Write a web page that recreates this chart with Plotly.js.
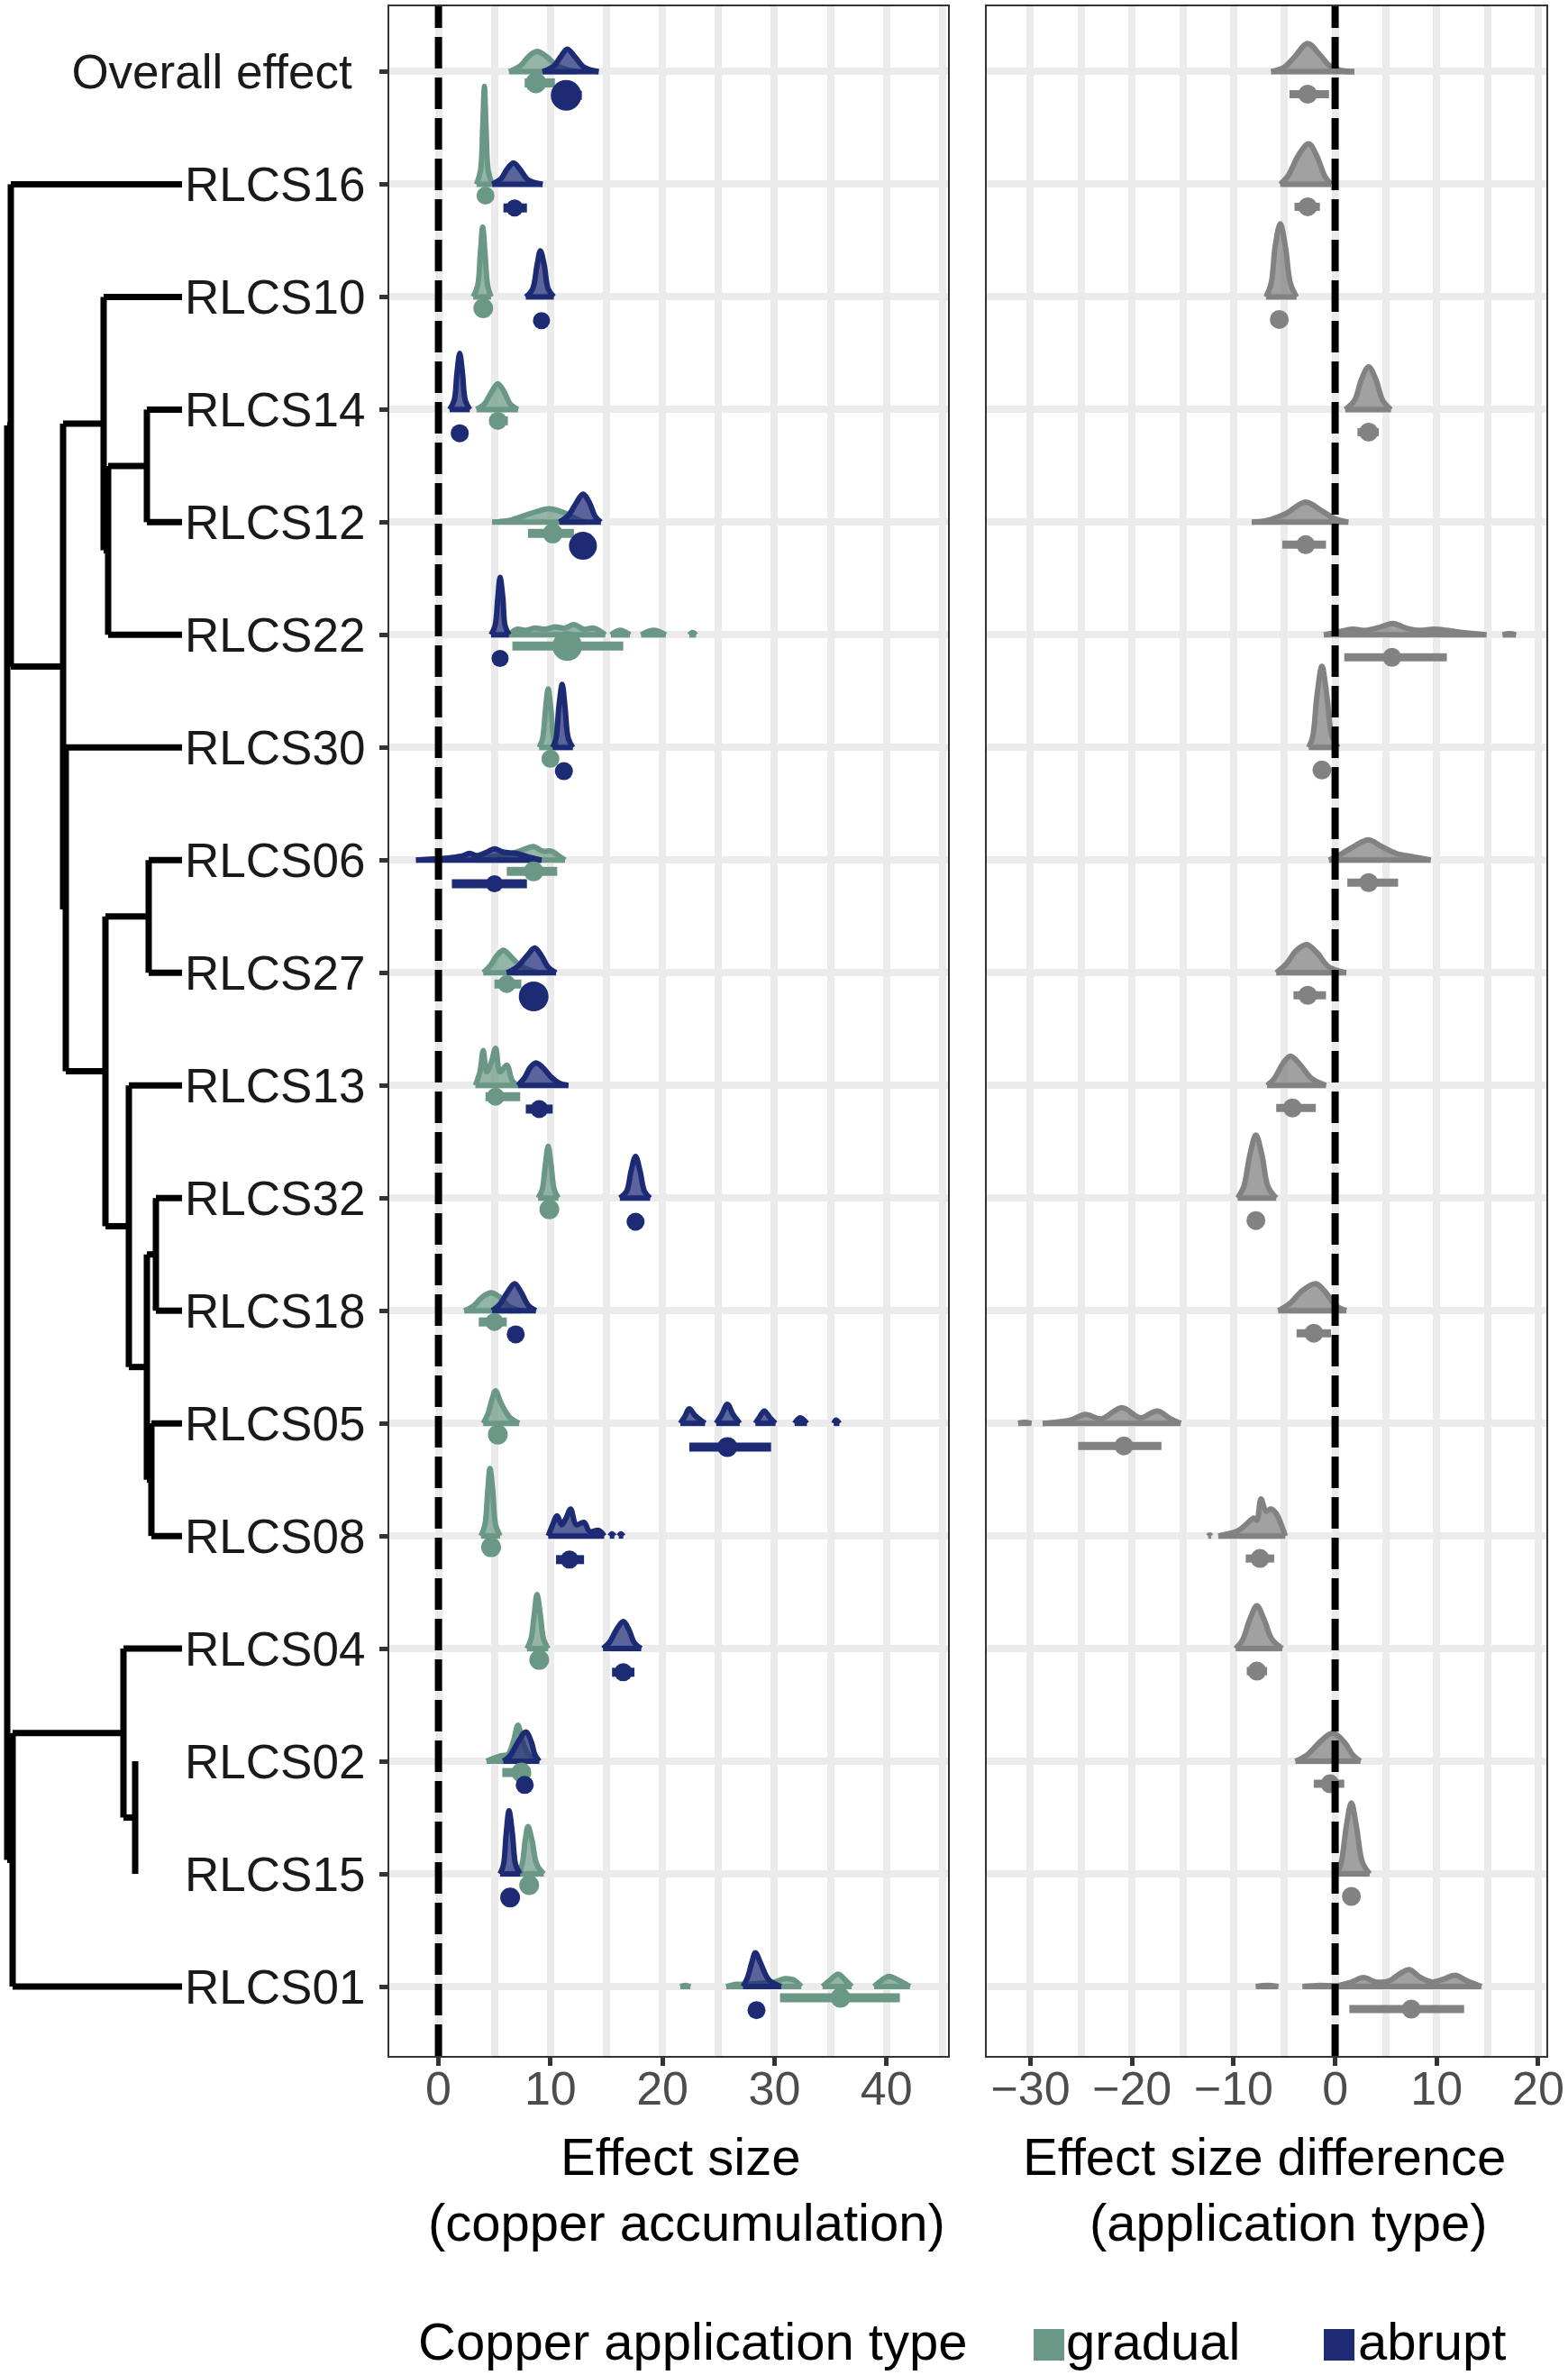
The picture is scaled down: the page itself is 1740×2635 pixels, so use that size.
<!DOCTYPE html>
<html><head><meta charset="utf-8">
<script src="https://cdn.plot.ly/plotly-3.0.1.min.js"></script>
<style>html,body{margin:0;padding:0;background:#fff}#chart{width:1740px;height:2635px}</style>
</head><body><div id="chart"></div>
<script>
// ---------------- DATA ----------------
const rowNames = ["Overall effect","RLCS16","RLCS10","RLCS14","RLCS12","RLCS22","RLCS30","RLCS06","RLCS27","RLCS13","RLCS32","RLCS18","RLCS05","RLCS08","RLCS04","RLCS02","RLCS15","RLCS01"];
const groupNames = ["gradual","abrupt"];

const gradualMedian = [8.7, 4.2, 4.0, 5.3, 10.2, 11.5, 10.0, 8.5, 6.1, 5.1, 9.9, 5.0, 5.3, 4.7, 9.0, 7.4, 8.1, 35.9];
const gradualLower  = [7.7, 3.9, 3.7, 4.6, 8.0, 6.6, 9.7, 6.1, 5.0, 4.2, 9.6, 3.6, 5.0, 4.4, 8.7, 5.7, 7.8, 30.5];
const gradualUpper  = [10.4, 4.5, 4.3, 6.2, 12.1, 16.5, 10.2, 10.6, 7.4, 7.3, 10.2, 6.1, 5.6, 5.0, 9.3, 8.2, 8.4, 41.2];
const gradualWeight = [1.15, 1.0, 1.1, 1.0, 1.1, 1.65, 1.0, 1.1, 1.0, 1.0, 1.1, 1.0, 1.1, 1.1, 1.1, 1.1, 1.1, 1.1];

const abruptMedian = [11.4, 6.8, 9.2, 1.9, 12.9, 5.5, 11.2, 5.0, 8.5, 9.0, 17.6, 6.9, 25.8, 11.7, 16.5, 7.7, 6.4, 28.4];
const abruptLower  = [10.3, 5.8, 8.8, 1.6, 12.3, 5.2, 10.9, 1.2, 8.0, 7.8, 17.3, 6.5, 22.4, 10.5, 15.5, 7.4, 6.1, 28.1];
const abruptUpper  = [12.8, 7.9, 9.6, 2.2, 13.4, 5.8, 11.5, 7.9, 9.0, 10.2, 17.9, 7.3, 29.7, 13.0, 17.5, 8.0, 6.7, 28.7];
const abruptWeight = [1.7, 0.95, 0.95, 1.0, 1.55, 0.95, 1.0, 0.95, 1.65, 1.0, 1.0, 1.0, 1.1, 1.0, 1.0, 1.0, 1.1, 1.0];

const diffMedian = [-2.7, -2.7, -5.5, 3.3, -2.9, 5.6, -1.3, 3.3, -2.7, -4.2, -7.8, -2.1, -20.8, -7.4, -7.7, -0.5, 1.6, 7.5];
const diffLower  = [-4.5, -4.0, -6.0, 2.2, -5.2, 0.9, -1.7, 1.2, -4.1, -5.8, -8.3, -3.8, -25.3, -8.8, -8.7, -2.1, 1.2, 1.4];
const diffUpper  = [-0.6, -1.5, -5.0, 4.3, -0.9, 11.0, -0.9, 6.2, -0.9, -1.9, -7.3, -0.4, -17.1, -6.0, -6.7, 0.9, 2.0, 12.7];

// posterior densities: [value, height in row units]; null separates pieces
const gradualDensity = [
 [[6.3,0],[7.3,0.05],[8.0,0.13],[8.8,0.18],[9.7,0.13],[10.6,0.05],[12.3,0]],
 [[3.4,0],[3.75,0.12],[3.95,0.5],[4.1,0.87],[4.25,0.5],[4.45,0.12],[4.8,0]],
 [[3.1,0],[3.5,0.1],[3.75,0.4],[3.95,0.62],[4.15,0.4],[4.4,0.1],[4.7,0]],
 [[3.4,0],[4.1,0.05],[4.7,0.15],[5.3,0.23],[5.9,0.15],[6.4,0.05],[7.1,0]],
 [[4.8,0],[6.5,0.02],[8.0,0.07],[9.9,0.12],[11.3,0.08],[12.3,0.03],[13.1,0]],
 [[6.3,0],[7.0,0.05],[7.8,0.04],[8.6,0.06],[9.5,0.05],[10.4,0.07],[11.3,0.06],[12.1,0.09],[13.0,0.05],[13.9,0.06],[14.9,0],null,[15.4,0],[16.2,0.04],[17.1,0],null,[18.1,0],[19.2,0.04],[20.3,0],null,[22.4,0],[22.7,0.02],[23.0,0]],
 [[9.0,0],[9.3,0.08],[9.55,0.33],[9.8,0.52],[10.05,0.33],[10.3,0.08],[10.6,0]],
 [[3.4,0],[4.8,0.03],[6.2,0.05],[7.5,0.09],[8.5,0.12],[9.3,0.08],[10.1,0.08],[10.7,0.04],[11.3,0]],
 [[4.0,0],[4.6,0.06],[5.2,0.15],[5.8,0.2],[6.4,0.15],[7.2,0.07],[8.0,0.03],[9.0,0]],
 [[3.3,0],[3.7,0.12],[4.0,0.31],[4.3,0.12],[4.7,0.2],[5.1,0.33],[5.5,0.12],[6.1,0.18],[6.6,0.04],[7.1,0]],
 [[8.9,0],[9.25,0.07],[9.55,0.3],[9.8,0.46],[10.05,0.3],[10.35,0.07],[10.7,0]],
 [[2.3,0],[3.1,0.04],[3.9,0.12],[4.7,0.16],[5.5,0.12],[6.3,0.04],[7.4,0]],
 [[4.0,0],[4.4,0.08],[4.8,0.22],[5.1,0.29],[5.5,0.2],[5.9,0.12],[6.4,0.05],[7.2,0]],
 [[3.8,0],[4.15,0.1],[4.4,0.4],[4.6,0.6],[4.85,0.4],[5.1,0.1],[5.5,0]],
 [[7.9,0],[8.25,0.08],[8.55,0.3],[8.8,0.48],[9.1,0.3],[9.4,0.08],[9.8,0]],
 [[4.3,0],[5.0,0.03],[5.6,0.05],[6.2,0.06],[6.7,0.18],[7.1,0.32],[7.5,0.18],[8.1,0.05],[9.0,0]],
 [[7.2,0],[7.5,0.1],[7.75,0.3],[8.0,0.42],[8.35,0.3],[8.8,0.08],[9.4,0]],
 [[21.6,0],[22.0,0.01],[22.5,0],null,[25.7,0],[26.6,0.02],[27.6,0.02],[28.8,0.03],[30.0,0.04],[30.9,0.07],[31.7,0.06],[32.4,0],null,[34.3,0],[35.0,0.06],[35.7,0.11],[36.4,0.05],[36.9,0],null,[38.9,0],[39.5,0.05],[40.2,0.09],[41.0,0.06],[42.1,0]]
];
const abruptDensity = [
 [[9.3,0],[10.3,0.05],[10.9,0.13],[11.5,0.2],[12.2,0.13],[13.0,0.04],[14.3,0]],
 [[4.8,0],[5.6,0.05],[6.1,0.13],[6.7,0.19],[7.3,0.13],[8.0,0.04],[9.3,0]],
 [[7.8,0],[8.4,0.07],[8.8,0.28],[9.1,0.41],[9.45,0.28],[9.8,0.07],[10.3,0]],
 [[1.0,0],[1.4,0.08],[1.65,0.32],[1.9,0.5],[2.15,0.32],[2.4,0.08],[2.8,0]],
 [[10.8,0],[11.6,0.06],[12.3,0.17],[12.9,0.25],[13.5,0.17],[14.0,0.05],[14.5,0]],
 [[4.7,0],[5.05,0.08],[5.3,0.33],[5.5,0.51],[5.75,0.33],[5.95,0.08],[6.3,0]],
 [[10.2,0],[10.5,0.08],[10.75,0.36],[11.05,0.56],[11.3,0.36],[11.6,0.08],[12.0,0]],
 [[-2.0,0],[-0.5,0.01],[1.0,0.02],[2.2,0.04],[2.8,0.06],[3.4,0.04],[4.3,0.07],[5.0,0.1],[5.8,0.07],[6.9,0.06],[8.0,0.03],[9.2,0]],
 [[6.1,0],[7.0,0.05],[7.9,0.15],[8.6,0.22],[9.2,0.15],[9.8,0.05],[10.5,0]],
 [[7.1,0],[7.7,0.07],[8.2,0.16],[8.7,0.2],[9.3,0.16],[10.0,0.08],[10.8,0.02],[11.6,0]],
 [[16.2,0],[16.8,0.06],[17.2,0.24],[17.6,0.37],[18.0,0.24],[18.4,0.06],[18.9,0]],
 [[4.8,0],[5.5,0.06],[6.2,0.17],[6.8,0.24],[7.4,0.16],[8.0,0.05],[8.7,0]],
 [[21.6,0],[22.0,0.06],[22.4,0.13],[22.9,0.07],[23.8,0],null,[24.8,0],[25.3,0.08],[25.8,0.17],[26.3,0.08],[26.9,0],null,[28.3,0],[28.7,0.06],[29.1,0.11],[29.6,0.05],[30.1,0],null,[31.8,0],[32.3,0.05],[32.9,0],null,[35.3,0],[35.5,0.03],[35.8,0]],
 [[9.8,0],[10.2,0.1],[10.6,0.18],[11.0,0.1],[11.4,0.16],[11.8,0.24],[12.3,0.1],[13.0,0.12],[13.5,0.04],[14.3,0.05],[14.8,0],null,[15.3,0],[15.5,0.02],[15.7,0],null,[16.1,0],[16.3,0.02],[16.5,0]],
 [[14.7,0],[15.3,0.06],[15.9,0.17],[16.5,0.24],[17.0,0.17],[17.5,0.05],[18.1,0]],
 [[5.8,0],[6.4,0.05],[7.1,0.17],[7.8,0.26],[8.3,0.17],[8.6,0.06],[9.0,0]],
 [[5.5,0],[5.8,0.08],[6.05,0.36],[6.3,0.56],[6.6,0.36],[6.9,0.08],[7.3,0]],
 [[27.2,0],[27.6,0.08],[28.0,0.22],[28.3,0.3],[28.8,0.2],[29.5,0.06],[30.6,0]]
];
const diffDensity = [
 [[-6.3,0],[-5.0,0.04],[-4.0,0.13],[-2.7,0.25],[-1.5,0.15],[-0.5,0.05],[0.6,0.01],[1.9,0]],
 [[-5.4,0],[-4.6,0.08],[-3.6,0.26],[-2.6,0.36],[-1.8,0.25],[-1.0,0.07],[-0.4,0]],
 [[-6.8,0],[-6.3,0.12],[-5.9,0.45],[-5.4,0.65],[-4.9,0.45],[-4.4,0.12],[-3.8,0]],
 [[1.0,0],[1.9,0.08],[2.6,0.27],[3.3,0.38],[4.0,0.27],[4.7,0.08],[5.5,0]],
 [[-8.2,0],[-6.5,0.02],[-4.8,0.08],[-2.9,0.18],[-1.3,0.1],[0.0,0.03],[1.3,0]],
 [[-1.1,0],[0.5,0.03],[1.7,0.05],[3.0,0.04],[4.5,0.07],[5.7,0.1],[7.0,0.06],[8.3,0.04],[9.7,0.05],[11.0,0.04],[12.5,0.02],[14.9,0],null,[16.5,0],[17.2,0.01],[17.8,0]],
 [[-2.6,0],[-2.2,0.1],[-1.8,0.45],[-1.3,0.72],[-0.8,0.45],[-0.3,0.1],[0.3,0]],
 [[-0.6,0],[0.7,0.06],[2.0,0.13],[3.3,0.18],[4.6,0.12],[6.0,0.06],[7.6,0.03],[9.4,0]],
 [[-5.8,0],[-4.8,0.08],[-3.8,0.2],[-2.8,0.25],[-1.8,0.18],[-0.6,0.05],[1.1,0]],
 [[-6.7,0],[-6.0,0.06],[-5.1,0.2],[-4.4,0.26],[-3.5,0.19],[-2.3,0.06],[-0.9,0]],
 [[-9.6,0],[-9.0,0.1],[-8.4,0.38],[-7.8,0.56],[-7.2,0.38],[-6.6,0.1],[-5.8,0]],
 [[-5.6,0],[-4.5,0.06],[-3.2,0.18],[-1.9,0.24],[-0.9,0.16],[0.0,0.05],[1.1,0]],
 [[-31.2,0],[-30.6,0.01],[-29.9,0],null,[-28.8,0],[-27.5,0.01],[-26.0,0.03],[-24.6,0.08],[-23.0,0.04],[-21.0,0.14],[-19.2,0.05],[-17.5,0.11],[-16.2,0.04],[-15.2,0]],
 [[-12.5,0],[-12.35,0.01],[-12.2,0],null,[-11.5,0],[-10.5,0.02],[-9.5,0.05],[-8.8,0.1],[-8.0,0.16],[-7.7,0.14],[-7.3,0.33],[-6.8,0.22],[-6.3,0.24],[-5.8,0.2],[-5.3,0.1],[-4.9,0]],
 [[-9.8,0],[-9.1,0.08],[-8.4,0.26],[-7.7,0.38],[-7.0,0.26],[-6.2,0.08],[-5.2,0]],
 [[-3.9,0],[-2.7,0.06],[-1.4,0.18],[-0.2,0.25],[0.9,0.17],[1.8,0.05],[2.5,0]],
 [[0.2,0],[0.6,0.1],[1.1,0.42],[1.6,0.63],[2.1,0.42],[2.7,0.1],[3.4,0]],
 [[-7.8,0],[-6.7,0.01],[-5.6,0],null,[-3.2,0],[-1.5,0.01],[0.4,0.01],[1.6,0.04],[2.8,0.08],[4.0,0.04],[5.3,0.05],[6.3,0.11],[7.3,0.15],[8.4,0.08],[9.6,0.04],[10.8,0.07],[11.8,0.1],[13.0,0.05],[14.4,0]]
];

// x-axis ticks
const effectTicks = [0, 10, 20, 30, 40];
const effectMinorGrid = [5, 15, 25, 35, 45];
const diffTicks = [-30, -20, -10, 0, 10, 20];
const diffTickText = ["\u221230", "\u221220", "\u221210", "0", "10", "20"];
const diffMinorGrid = [-25, -15, -5, 5, 15];

// phylogeny (ggtree-style, depth)
const treeNode   = ["root","S","E","A","B","C","F","D","G","H","I","J","K","P","M","N",
  "RLCS16","RLCS10","RLCS14","RLCS12","RLCS22","RLCS30","RLCS06","RLCS27","RLCS13","RLCS32","RLCS18","RLCS05","RLCS08","RLCS04","RLCS02","RLCS15","RLCS01"];
const treeParent = [null,"root","S","E","A","B","E","F","D","D","H","I","I","root","P","M",
  "S","A","C","C","B","F","G","G","H","J","J","K","K","M","N","N","P"];
const treeDepth  = [8,12,70,115,120,163,73,117,165,143,163,173,168,14,137,150,
  202,202,202,202,202,202,202,202,202,202,202,202,202,202,150,150,202];

// ---------------- STYLE ----------------
const W = 1740, H = 2635;
const px = v => v / W, py = v => 1 - v / H;
const FONT = "Liberation Sans, Arial, Helvetica, sans-serif";
const colG = "#6b9886", colA = "#1d2a74", colD = "#828282";
const fillG = "rgba(107,152,134,0.72)", fillA = "rgba(29,42,116,0.72)", fillD = "rgba(130,130,130,0.75)";
const nRow = rowNames.length;
const rowPos = rowNames.map((_, i) => nRow - i);
const yRange = [0.384, 18.58];
const GRID = "#ebebeb";

const traces = [];

function slab(pts, pos, xa, ya, lc, fc) {
  const x = [], y = [];
  pts.forEach(p => { if (p === null) { x.push(null); y.push(null); } else { x.push(p[0]); y.push(pos + p[1]); } });
  return {type:"scatter", mode:"lines", x, y, xaxis:xa, yaxis:ya, fill:"toself", fillcolor:fc,
    line:{color:lc, width:6, shape:"spline", smoothing:1}, hoverinfo:"skip", showlegend:false};
}
function baselines(dens, xa, ya, lc) {
  const x = [], y = [];
  dens.forEach((pts, i) => {
    let seg = [];
    const flush = () => { if (seg.length) { x.push(seg[0][0], seg[seg.length-1][0], null); y.push(rowPos[i], rowPos[i], null); } seg = []; };
    pts.forEach(p => { if (p === null) flush(); else seg.push(p); });
    flush();
  });
  return {type:"scatter", mode:"lines", x, y, xaxis:xa, yaxis:ya, line:{color:lc, width:6}, hoverinfo:"skip", showlegend:false};
}
function intervals(lo, hi, off, xa, ya, lc, w) {
  const x = [], y = [];
  lo.forEach((v, i) => { x.push(v, hi[i], null); y.push(rowPos[i] - off, rowPos[i] - off, null); });
  return {type:"scatter", mode:"lines", x, y, xaxis:xa, yaxis:ya, line:{color:lc, width:w}, hoverinfo:"skip", showlegend:false};
}
function points(med, off, sizes, xa, ya, c, name) {
  return {type:"scatter", mode:"markers", name, x:med, y:rowPos.map(p => p - off), xaxis:xa, yaxis:ya,
    marker:{color:c, size:sizes, opacity:1, line:{width:0}}, hoverinfo:"x", showlegend:false};
}

// Panel 1 slabs
gradualDensity.forEach((pts, i) => traces.push(slab(pts, rowPos[i], "x", "y", colG, fillG)));
traces.push(baselines(gradualDensity, "x", "y", colG));
abruptDensity.forEach((pts, i) => traces.push(slab(pts, rowPos[i], "x", "y", colA, fillA)));
traces.push(baselines(abruptDensity, "x", "y", colA));
// Panel 1 point intervals
traces.push(intervals(gradualLower, gradualUpper, 0.1, "x", "y", colG, 10));
traces.push(points(gradualMedian, 0.1, gradualWeight.map(w => 20 * w), "x", "y", colG, groupNames[0]));
traces.push(intervals(abruptLower, abruptUpper, 0.21, "x", "y", colA, 10));
traces.push(points(abruptMedian, 0.21, abruptWeight.map(w => 20 * w), "x", "y", colA, groupNames[1]));
// Panel 2
diffDensity.forEach((pts, i) => traces.push(slab(pts, rowPos[i], "x2", "y2", colD, fillD)));
traces.push(baselines(diffDensity, "x2", "y2", colD));
traces.push(intervals(diffLower, diffUpper, 0.2, "x2", "y2", colD, 9));
traces.push(points(diffMedian, 0.2, diffMedian.map(() => 21), "x2", "y2", colD, "difference"));

// Tree
(function () {
  const idx = {}; treeNode.forEach((n, i) => idx[n] = i);
  const children = treeNode.map(() => []);
  treeParent.forEach((p, i) => { if (p !== null) children[idx[p]].push(i); });
  const yOf = new Array(treeNode.length).fill(null);
  function getY(i) {
    if (yOf[i] !== null) return yOf[i];
    if (children[i].length === 0) { yOf[i] = rowPos[rowNames.indexOf(treeNode[i])]; return yOf[i]; }
    const ys = children[i].map(getY);
    yOf[i] = ys.reduce((a, b) => a + b, 0) / ys.length; return yOf[i];
  }
  treeNode.forEach((_, i) => getY(i));
  const x = [], y = [];
  treeNode.forEach((n, i) => {
    if (treeParent[i] !== null) { const p = idx[treeParent[i]]; x.push(treeDepth[p], treeDepth[i], null); y.push(yOf[i], yOf[i], null); }
    if (children[i].length) { const ys = children[i].map(c => yOf[c]); x.push(treeDepth[i], treeDepth[i], null); y.push(Math.min(...ys), Math.max(...ys), null); }
  });
  traces.push({type:"scatter", mode:"lines", x, y, xaxis:"x3", yaxis:"y3", line:{color:"#000", width:7}, hoverinfo:"skip", showlegend:false});
})();

const yDom = [py(2281), py(7)];
const rowTickText = rowNames.map(n => n === "Overall effect" ? n + "\u00a0" : n);
const layout = {
  width: W, height: H, margin:{l:0, r:0, t:0, b:0}, paper_bgcolor:"#fff", plot_bgcolor:"#fff",
  showlegend:false, font:{family:FONT, color:"#000"}, hovermode:"closest",
  xaxis:{domain:[px(432), px(1052)], range:[-4.39, 45.5], anchor:"y", tickmode:"array", tickvals:effectTicks,
    ticks:"outside", ticklen:9, tickwidth:5, tickcolor:"#333", tickfont:{size:52, color:"#4d4d4d", family:FONT}, ticklabelstandoff:-19,
    showgrid:true, gridcolor:GRID, gridwidth:8, zeroline:false, showline:true, mirror:true, linecolor:"#333", linewidth:2,
    minor:{tickvals:effectMinorGrid, showgrid:true, gridcolor:GRID, gridwidth:8, ticks:""}, automargin:false, fixedrange:true},
  yaxis:{domain:yDom, range:yRange, anchor:"x", tickmode:"array", tickvals:rowPos, ticktext:rowTickText,
    ticks:"outside", ticklen:9, tickwidth:5, tickcolor:"#333", tickfont:{size:53, color:"#1a1a1a", family:FONT}, ticklabelstandoff:5,
    showgrid:true, gridcolor:GRID, gridwidth:8, zeroline:false, showline:true, mirror:true, linecolor:"#333", linewidth:2,
    automargin:false, fixedrange:true},
  xaxis2:{domain:[px(1095), px(1716)], range:[-34.3, 20.8], anchor:"y2", tickmode:"array", tickvals:diffTicks, ticktext:diffTickText,
    ticks:"outside", ticklen:9, tickwidth:5, tickcolor:"#333", tickfont:{size:52, color:"#4d4d4d", family:FONT}, ticklabelstandoff:-19,
    showgrid:true, gridcolor:GRID, gridwidth:8, zeroline:false, showline:true, mirror:true, linecolor:"#333", linewidth:2,
    minor:{tickvals:diffMinorGrid, showgrid:true, gridcolor:GRID, gridwidth:8, ticks:""}, automargin:false, fixedrange:true},
  yaxis2:{domain:yDom, range:yRange, anchor:"x2", tickmode:"array", tickvals:rowPos, showticklabels:false, ticks:"",
    showgrid:true, gridcolor:GRID, gridwidth:8, zeroline:false, showline:true, mirror:true, linecolor:"#333", linewidth:2,
    automargin:false, fixedrange:true},
  xaxis3:{domain:[0, px(250)], range:[0, 250], anchor:"y3", visible:false, fixedrange:true},
  yaxis3:{domain:yDom, range:yRange, anchor:"x3", visible:false, fixedrange:true},
  shapes:[
    {type:"line", xref:"x", yref:"y domain", x0:0, x1:0, y0:0, y1:1, layer:"above", line:{color:"#000", width:8, dash:"35px,10px"}},
    {type:"line", xref:"x2", yref:"y2 domain", x0:0, x1:0, y0:0, y1:1, layer:"above", line:{color:"#000", width:8, dash:"35px,10px"}},
    {type:"rect", xref:"paper", yref:"paper", x0:px(1147), x1:px(1181), y0:py(2619), y1:py(2584), fillcolor:colG, line:{width:0}},
    {type:"rect", xref:"paper", yref:"paper", x0:px(1469), x1:px(1503), y0:py(2619), y1:py(2584), fillcolor:colA, line:{width:0}}
  ],
  annotations:[
    {text:"Effect size", xref:"paper", yref:"paper", x:px(755), y:py(2392), xanchor:"center", yanchor:"middle", showarrow:false, font:{size:58, family:FONT, color:"#000"}},
    {text:"(copper accumulation)", xref:"paper", yref:"paper", x:px(762), y:py(2465), xanchor:"center", yanchor:"middle", showarrow:false, font:{size:58, family:FONT, color:"#000"}},
    {text:"Effect size difference", xref:"paper", yref:"paper", x:px(1403), y:py(2392), xanchor:"center", yanchor:"middle", showarrow:false, font:{size:58, family:FONT, color:"#000"}},
    {text:"(application type)", xref:"paper", yref:"paper", x:px(1430), y:py(2465), xanchor:"center", yanchor:"middle", showarrow:false, font:{size:58, family:FONT, color:"#000"}},
    {text:"Copper application type", xref:"paper", yref:"paper", x:px(462), y:py(2597), xanchor:"left", yanchor:"middle", showarrow:false, font:{size:58, family:FONT, color:"#000"}},
    {text:groupNames[0], xref:"paper", yref:"paper", x:px(1181), y:py(2597), xanchor:"left", yanchor:"middle", showarrow:false, font:{size:58, family:FONT, color:"#000"}},
    {text:groupNames[1], xref:"paper", yref:"paper", x:px(1505), y:py(2597), xanchor:"left", yanchor:"middle", showarrow:false, font:{size:58, family:FONT, color:"#000"}}
  ]
};

Plotly.newPlot("chart", traces, layout, {staticPlot:true, displayModeBar:false});
</script></body></html>
